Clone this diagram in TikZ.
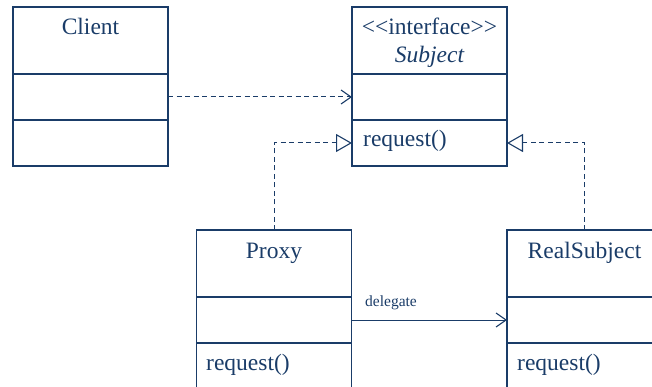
\documentclass[tikz,border=0pt]{standalone}
\usepackage{fontspec}
\setmainfont{Liberation Serif}
\usetikzlibrary{arrows.meta}
\definecolor{navy}{RGB}{26,60,104}
\begin{document}
\begin{tikzpicture}[x=1pt,y=-1pt,
  comp/.style={draw=navy, line width=1.3pt, minimum width=155pt, inner sep=0pt, outer sep=0pt},
  txt/.style={text=navy, font=\fontsize{23.5}{26}\selectfont, inner sep=0pt},
  lbl/.style={text=navy, font=\fontsize{15.5}{17}\selectfont, inner sep=0pt},
  dep/.style={draw=navy, line width=1pt, dash pattern=on 5pt off 3.5pt, -{Straight Barb[length=10pt,width=14pt,line width=1.1pt]}},
  realz/.style={draw=navy, line width=1pt, dash pattern=on 5pt off 3.5pt, -{Triangle[open,length=16pt,width=18pt,fill=white,line width=1.1pt]}},
  assoc/.style={draw=navy, line width=1pt, -{Straight Barb[length=10pt,width=14pt,line width=1.1pt]}}]
\useasboundingbox (0,0) rectangle (652,387);
% Client
\node[comp, minimum height=67pt] (clientname) at (90.5,40.5) {};
\node[comp, minimum height=46pt] (clientattr) at (90.5,97) {};
\node[comp, minimum height=46pt] (clientops) at (90.5,143) {};
\node[txt, anchor=base] (clientlbl) at (90.5,35) {Client};
% Subject
\node[comp, minimum height=67pt] (subjname) at (429.5,40.5) {};
\node[comp, minimum height=46pt] (subjattr) at (429.5,97) {};
\node[comp, minimum height=46pt] (subjops) at (429.5,143) {};
\node[txt, anchor=base] (subjster) at (429.5,35) {<\kern0pt<interface>\kern0pt>};
\node[txt, anchor=base] (subjlbl) at (429.5,63) {\itshape Subject};
\node[txt, anchor=base west] (subjop) at (363,147) {request()};
% Proxy
\node[comp, minimum height=67pt] (proxyname) at (274,263.5) {};
\node[comp, minimum height=46pt] (proxyattr) at (274,320) {};
\node[comp, minimum height=46pt] (proxyops) at (274,366) {};
\node[txt, anchor=base] (proxylbl) at (274,258) {Proxy};
\node[txt, anchor=base west] (proxyop) at (206,370) {request()};
% RealSubject
\node[comp, minimum height=67pt] (realname) at (584.5,263.5) {};
\node[comp, minimum height=46pt] (realattr) at (584.5,320) {};
\node[comp, minimum height=46pt] (realops) at (584.5,366) {};
\node[txt, anchor=base] (reallbl) at (584.5,258) {RealSubject};
\node[txt, anchor=base west] (realop) at (517,370) {request()};
% connectors
\draw[dep] (clientattr.east) -- (subjattr.west);
\draw[realz] (proxyname.north) |- (subjops.west);
\draw[realz] (realname.north) |- (subjops.east);
\draw[assoc] (proxyattr.east) -- (realattr.west);
\node[lbl, anchor=base west] (dlbl) at (365,306) {delegate};
\end{tikzpicture}
\end{document}
